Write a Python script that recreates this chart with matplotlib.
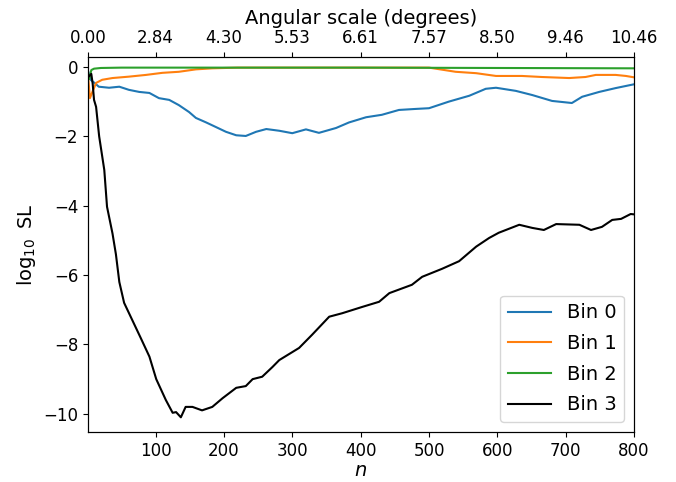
import matplotlib
matplotlib.use("Agg")
import matplotlib.pyplot as plt
import numpy as np

# Values (n, log10 SL)
n_bin0 = [1, 5, 10, 17, 32, 47, 61, 76, 91, 105, 120, 134, 149, 159, 174, 188,
          203, 218, 232, 247, 262, 281, 300, 320, 339, 364, 383, 408, 431, 456,
          481, 500, 529, 559, 583, 598, 627, 651, 680, 709, 724, 749, 773, 795, 800]
sl_bin0 = [-0.1, -0.37, -0.45, -0.57, -0.6, -0.57, -0.66, -0.72, -0.75, -0.9,
           -0.95, -1.1, -1.3, -1.47, -1.6, -1.73, -1.87, -1.97, -1.99, -1.87,
           -1.79, -1.84, -1.91, -1.8, -1.9, -1.76, -1.6, -1.45, -1.38, -1.24,
           -1.21, -1.19, -1.0, -0.83, -0.63, -0.6, -0.69, -0.81, -0.98, -1.04,
           -0.86, -0.72, -0.61, -0.52, -0.5]

n_bin1 = [1, 4, 7, 13, 22, 37, 61, 86, 110, 134, 159, 183, 220, 300, 400, 500,
          539, 569, 598, 636, 665, 705, 729, 744, 773, 788, 800]
sl_bin1 = [-0.2, -0.9, -0.75, -0.46, -0.37, -0.32, -0.28, -0.23, -0.17, -0.14,
           -0.07, -0.04, -0.02, -0.02, -0.02, -0.02, -0.14, -0.18, -0.26, -0.26,
           -0.29, -0.32, -0.29, -0.23, -0.23, -0.26, -0.3]

n_bin2 = [1, 3, 6, 10, 20, 50, 200, 400, 600, 800]
sl_bin2 = [-0.17, -0.35, -0.09, -0.05, -0.03, -0.02, -0.02, -0.02, -0.03, -0.04]

n_bin3 = [1, 6, 8, 10, 13, 17.5, 25, 29, 37, 42, 47, 54, 66, 78, 91, 101, 115,
          125, 130, 137, 144, 154, 168, 183, 198, 218, 232, 242, 256, 271, 281,
          310, 329, 354, 373, 402, 427, 442, 475, 490, 519, 544, 569, 588, 602,
          632, 651, 668, 686, 720, 737, 753, 768, 781, 795, 800]
sl_bin3 = [-0.3, -0.2, -0.48, -0.95, -1.15, -2.0, -2.97, -4.03, -4.8, -5.4,
           -6.2, -6.8, -7.3, -7.8, -8.35, -9.0, -9.6, -9.97, -9.95, -10.1, -9.8,
           -9.8, -9.9, -9.8, -9.55, -9.25, -9.2, -9.0, -8.93, -8.65, -8.45,
           -8.1, -7.72, -7.2, -7.1, -6.92, -6.77, -6.52, -6.28, -6.05, -5.82,
           -5.6, -5.18, -4.93, -4.78, -4.55, -4.64, -4.7, -4.53, -4.55, -4.7,
           -4.61, -4.41, -4.38, -4.24, -4.25]

top_ticks = [1, 100, 200, 300, 400, 500, 600, 700, 800]
top_labels = ["0.00", "2.84", "4.30", "5.53", "6.61", "7.57", "8.50", "9.46", "10.46"]

fig = plt.figure(figsize=(6.76, 4.82), dpi=100)
ax = fig.add_axes([0.130, 0.104, 0.808, 0.778])

ax.plot(n_bin0, sl_bin0, color="tab:blue", label="Bin 0")
ax.plot(n_bin1, sl_bin1, color="tab:orange", label="Bin 1")
ax.plot(n_bin2, sl_bin2, color="tab:green", label="Bin 2")
ax.plot(n_bin3, sl_bin3, color="black", label="Bin 3")

ax.set_xlim(1, 800)
ax.set_ylim(-10.52, 0.29)
ax.set_xticks([100, 200, 300, 400, 500, 600, 700, 800])
ax.set_yticks([-10, -8, -6, -4, -2, 0])
ax.tick_params(labelsize=12)
ax.set_xlabel("$n$", fontsize=14, labelpad=1)
ax.set_ylabel(r"$\log_{10}$ SL", fontsize=14)
ax.legend(loc="lower right", fontsize=14, handlelength=2.25, labelspacing=0.6)

# Top axis: angular scale
ax_top = ax.twiny()
ax_top.set_xlim(ax.get_xlim())
ax_top.set_xticks(top_ticks)
ax_top.set_xticklabels(top_labels)
ax_top.tick_params(labelsize=12)
ax_top.set_xlabel("Angular scale (degrees)", fontsize=14)

fig.savefig("out.png", dpi=100)
